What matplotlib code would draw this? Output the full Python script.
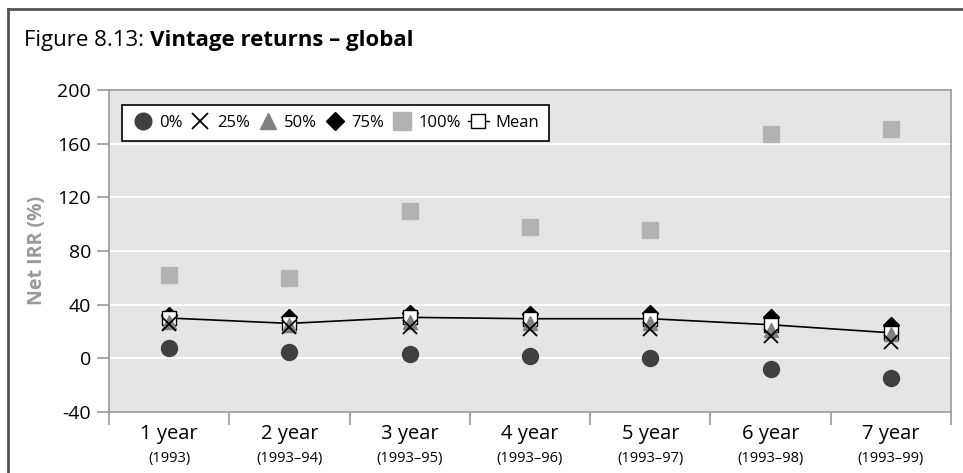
import matplotlib
matplotlib.use("Agg")
import matplotlib.pyplot as plt
from matplotlib.lines import Line2D
import numpy as np

plt.rcParams['font.family'] = ['Open Sans', 'DejaVu Sans']

categories = ["1 year", "2 year", "3 year", "4 year", "5 year", "6 year", "7 year"]
periods = ["(1993)", "(1993\u201394)", "(1993\u201395)", "(1993\u201396)", "(1993\u201397)", "(1993\u201398)", "(1993\u201399)"]
p0 = [7.5, 5, 3, 2, 0, -8, -14.5]
p25 = [25.5, 23.5, 23.5, 22, 21.5, 16.5, 12]
p50 = [27, 25, 27, 26, 26, 21, 18]
p75 = [32, 31, 34, 33, 34, 31, 25]
p100 = [62, 60, 110, 98, 95.5, 167, 171]
mean = [30, 26, 30.5, 29.5, 29.5, 25, 19]

fig = plt.figure(figsize=(9.63, 4.73), dpi=100)
ax = fig.add_axes([0.1132, 0.129, 0.8743, 0.681])
ax.set_facecolor('#e5e5e5')

x = np.arange(len(categories))
ax.plot(x, p0, 'o', color='#404040', ms=11.5, mec='#404040', zorder=3, label='0%')
ax.plot(x, p100, 's', color='#b3b3b3', ms=11.5, mec='#b3b3b3', zorder=3, label='100%')
ax.plot(x, p75, 'D', color='black', ms=8.5, zorder=4, label='75%')
ax.plot(x, mean, '-s', color='black', lw=1.2, ms=10, mfc='white', mec='black', mew=1.0, zorder=5, label='Mean')
ax.plot(x, p50, '^', color='#808080', ms=10, mec='#808080', zorder=6, label='50%')
ax.plot(x, p25, 'x', color='black', ms=10, mew=1.3, zorder=7, label='25%')

ax.set_xlim(-0.5, len(categories) - 0.5)
ax.set_ylim(-40, 200)
yt = np.arange(-40, 201, 40)
ax.set_yticks(yt)
ax.set_yticklabels([str(v) for v in yt], fontsize=14)
ax.yaxis.grid(True, color='white', lw=1.3)
ax.set_axisbelow(True)
ax.tick_params(axis='y', length=9, width=1.2, color='#999999', pad=4)

ax.set_xticks(np.arange(len(categories) + 1) - 0.5)
ax.set_xticklabels([])
ax.tick_params(axis='x', length=9, width=1.2, color='#999999')
for i, (c, p) in enumerate(zip(categories, periods)):
    ax.annotate(c, xy=(i, 0), xycoords=('data', 'axes fraction'), xytext=(0, -9),
                textcoords='offset points', ha='center', va='top', fontsize=14.5)
    ax.annotate(p, xy=(i, 0), xycoords=('data', 'axes fraction'), xytext=(0, -28),
                textcoords='offset points', ha='center', va='top', fontsize=10.5)

for s in ax.spines.values():
    s.set_color('#999999')
    s.set_linewidth(1.2)

ax.set_ylabel('Net IRR (%)', fontsize=14, fontweight='bold', color='#999999', labelpad=7)

handles = [
    Line2D([], [], ls='none', marker='o', color='#404040', ms=12),
    Line2D([], [], ls='none', marker='x', color='black', ms=11, mew=1.3),
    Line2D([], [], ls='none', marker='^', color='#808080', ms=12),
    Line2D([], [], ls='none', marker='D', color='black', ms=9),
    Line2D([], [], ls='none', marker='s', color='#b3b3b3', ms=13),
    Line2D([], [], ls='-', lw=1, marker='s', color='black', mfc='white', ms=10, mew=1),
]
labels = ['0%', '25%', '50%', '75%', '100%', 'Mean']
leg = ax.legend(handles, labels, loc='upper left', bbox_to_anchor=(0.0154, 0.953), ncol=6,
                fontsize=12, frameon=True, fancybox=False, edgecolor='black',
                handlelength=1.3, handletextpad=0.35, columnspacing=0.4,
                borderpad=0.6, borderaxespad=0, framealpha=1)
leg.get_frame().set_linewidth(1.2)

t1 = fig.text(0.025, 0.903, 'Figure 8.13: ', fontsize=16, ha='left', va='baseline')
fig.canvas.draw()
bb = t1.get_window_extent()
x2 = bb.x1 / fig.bbox.width
fig.text(x2, 0.903, 'Vintage returns \u2013 global', fontsize=16, fontweight='bold', ha='left', va='baseline')

fig.add_artist(Line2D([0.0085, 0.0085], [0, 0.982], transform=fig.transFigure, color='#555555', lw=2))
fig.add_artist(Line2D([0.0085, 1.0], [0.982, 0.982], transform=fig.transFigure, color='#555555', lw=2))

fig.savefig('out.png', dpi=100)
